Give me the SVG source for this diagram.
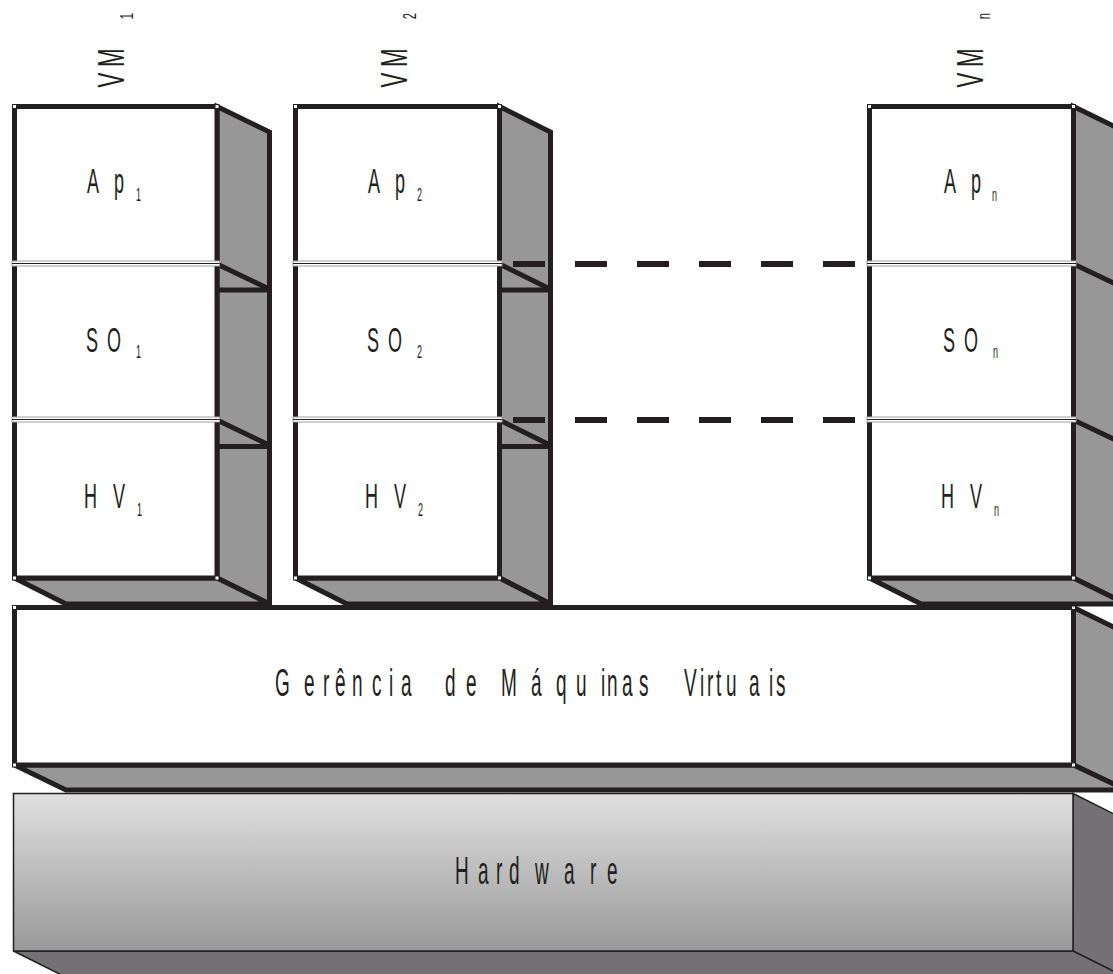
<svg xmlns="http://www.w3.org/2000/svg" width="1113" height="974" viewBox="0 0 1113 974">
<defs>
<linearGradient id="hwgrad" x1="0" y1="0" x2="0" y2="1">
<stop offset="0" stop-color="#e0e0e0"/>
<stop offset="1" stop-color="#999999"/>
</linearGradient>
<style>
.face{fill:#979797;stroke:#231f20;stroke-width:5;stroke-linejoin:miter}
.front{fill:#ffffff;stroke:#231f20;stroke-width:5}
.edge{stroke:#231f20;stroke-width:5;fill:none}
.div{fill:#ffffff;stroke:#a0a0a0;stroke-width:1}
.divl{stroke:#231f20;stroke-width:1.2}
.dot{fill:#ffffff}
.lbl{font-family:"Liberation Sans",Arial,sans-serif;font-size:36px;fill:#231f20}
.sub{font-size:18px}
.big{font-family:"Liberation Sans",Arial,sans-serif;font-size:38px;fill:#231f20}
.hwface{fill:#737173;stroke:#231f20;stroke-width:1.5}
.dash{stroke:#231f20;stroke-width:6;stroke-dasharray:32 30}
</style>
</defs>

<g id="hardware">
<polygon class="hwface" points="1073,793.5 1125,819.5 1125,977 1073,951"/>
<polygon class="hwface" points="13.5,951 1073,951 1125,977 65.5,977"/>
<rect x="13.5" y="793.5" width="1059.5" height="157.5" fill="url(#hwgrad)" stroke="#231f20" stroke-width="1.5"/>
<text class="big" transform="translate(0,884) scale(0.5,1)"><tspan x="910">H</tspan><tspan x="956">a</tspan><tspan x="992">r</tspan><tspan x="1018">d</tspan><tspan x="1070">w</tspan><tspan x="1128">a</tspan><tspan x="1180">r</tspan><tspan x="1214">e</tspan></text>
</g>

<g id="gerencia">
<polygon class="face" points="1073.5,607.5 1126,633 1126,790 1073.5,765"/>
<polygon class="face" points="14.5,765 1073.5,765 1126,790 66,790"/>
<rect class="front" x="14.5" y="607.5" width="1059" height="157.5"/>
<rect class="dot" x="13" y="606" width="3" height="3"/>
<rect class="dot" x="13" y="763.5" width="3" height="3"/>
<rect class="dot" x="1072" y="606" width="3" height="3"/>
<rect class="dot" x="1072" y="763.5" width="3" height="3"/>
<text class="big" transform="translate(0,696) scale(0.5,1)" x="550 608 646 670 704 744 778 802 840 890 932 970 1002 1062 1112 1152 1202 1214 1244 1278 1320 1368 1400 1414 1432 1452 1498 1538 1552">Gerência de Máquinas Virtuais</text>
</g>

<g id="vm1">
<polygon class="face" points="217,106.5 269.5,132 269.5,604 217,578"/>
<polygon class="face" points="14.5,578 217,578 269.5,604 66,604"/>
<rect class="front" x="14.5" y="106.5" width="202.5" height="471.5"/>
<line class="edge" x1="217" y1="264" x2="269" y2="289"/>
<line class="edge" x1="217" y1="290" x2="269.5" y2="290"/>
<line class="edge" x1="217" y1="420" x2="269" y2="445"/>
<line class="edge" x1="217" y1="446.5" x2="269.5" y2="446.5"/>
<rect class="div" x="12" y="261" width="207.5" height="5"/>
<line class="divl" x1="12" y1="263.5" x2="219.5" y2="263.5"/>
<rect class="div" x="12" y="417" width="207.5" height="5"/>
<line class="divl" x1="12" y1="419.5" x2="219.5" y2="419.5"/>
<rect class="dot" x="13" y="105" width="3" height="3"/>
<rect class="dot" x="215.5" y="105" width="3" height="3"/>
<rect class="dot" x="13" y="576.5" width="3" height="3"/>
<rect class="dot" x="215.5" y="576.5" width="3" height="3"/>
<text class="lbl" transform="translate(124,87.5) rotate(-90) scale(0.62,1)"><tspan x="0">V</tspan><tspan x="33">M</tspan><tspan class="sub" x="110" dy="9">1</tspan></text>
<text class="lbl" transform="translate(87,193) scale(0.5,1)"><tspan x="0">A</tspan><tspan x="54">p</tspan><tspan class="sub" x="98" dy="8">1</tspan></text>
<text class="lbl" transform="translate(86,352) scale(0.5,1)"><tspan x="0">S</tspan><tspan x="42">O</tspan><tspan class="sub" x="100" dy="6">1</tspan></text>
<text class="lbl" transform="translate(84,508) scale(0.5,1)"><tspan x="0">H</tspan><tspan x="58">V</tspan><tspan class="sub" x="106" dy="8">1</tspan></text>
</g>

<g id="vm2">
<polygon class="face" points="499.5,106.5 550.5,132 550.5,604 499.5,578"/>
<polygon class="face" points="295.5,578 499.5,578 550.5,604 347,604"/>
<rect class="front" x="295.5" y="106.5" width="204" height="471.5"/>
<line class="edge" x1="499.5" y1="264" x2="550" y2="289"/>
<line class="edge" x1="499.5" y1="290" x2="550.5" y2="290"/>
<line class="edge" x1="499.5" y1="420" x2="550" y2="445"/>
<line class="edge" x1="499.5" y1="446.5" x2="550.5" y2="446.5"/>
<rect class="div" x="293" y="261" width="209" height="5"/>
<line class="divl" x1="293" y1="263.5" x2="502" y2="263.5"/>
<rect class="div" x="293" y="417" width="209" height="5"/>
<line class="divl" x1="293" y1="419.5" x2="502" y2="419.5"/>
<rect class="dot" x="294" y="105" width="3" height="3"/>
<rect class="dot" x="498" y="105" width="3" height="3"/>
<rect class="dot" x="294" y="576.5" width="3" height="3"/>
<rect class="dot" x="498" y="576.5" width="3" height="3"/>
<text class="lbl" transform="translate(407,87.5) rotate(-90) scale(0.62,1)"><tspan x="0">V</tspan><tspan x="33">M</tspan><tspan class="sub" x="110" dy="9">2</tspan></text>
<text class="lbl" transform="translate(368,193) scale(0.5,1)"><tspan x="0">A</tspan><tspan x="54">p</tspan><tspan class="sub" x="98" dy="8">2</tspan></text>
<text class="lbl" transform="translate(367,352) scale(0.5,1)"><tspan x="0">S</tspan><tspan x="42">O</tspan><tspan class="sub" x="100" dy="6">2</tspan></text>
<text class="lbl" transform="translate(365,508) scale(0.5,1)"><tspan x="0">H</tspan><tspan x="58">V</tspan><tspan class="sub" x="106" dy="8">2</tspan></text>
</g>

<g id="vmn">
<polygon class="face" points="1073.5,106.5 1126,132 1126,604 1073.5,578"/>
<polygon class="face" points="869.5,578 1073.5,578 1126,604 921,604"/>
<rect class="front" x="869.5" y="106.5" width="204" height="471.5"/>
<line class="edge" x1="1073.5" y1="264" x2="1126" y2="289"/>
<line class="edge" x1="1073.5" y1="420" x2="1126" y2="445"/>
<rect class="div" x="867" y="261" width="209" height="5"/>
<line class="divl" x1="867" y1="263.5" x2="1076" y2="263.5"/>
<rect class="div" x="867" y="417" width="209" height="5"/>
<line class="divl" x1="867" y1="419.5" x2="1076" y2="419.5"/>
<rect class="dot" x="868" y="105" width="3" height="3"/>
<rect class="dot" x="1072" y="105" width="3" height="3"/>
<rect class="dot" x="868" y="576.5" width="3" height="3"/>
<rect class="dot" x="1072" y="576.5" width="3" height="3"/>
<text class="lbl" transform="translate(983,87.5) rotate(-90) scale(0.62,1)"><tspan x="0">V</tspan><tspan x="33">M</tspan><tspan class="sub" x="110" dy="7">n</tspan></text>
<text class="lbl" transform="translate(944,193) scale(0.5,1)"><tspan x="0">A</tspan><tspan x="54">p</tspan><tspan class="sub" x="96" dy="8">n</tspan></text>
<text class="lbl" transform="translate(943,352) scale(0.5,1)"><tspan x="0">S</tspan><tspan x="42">O</tspan><tspan class="sub" x="100" dy="6">n</tspan></text>
<text class="lbl" transform="translate(941,508) scale(0.5,1)"><tspan x="0">H</tspan><tspan x="58">V</tspan><tspan class="sub" x="106" dy="8">n</tspan></text>
</g>

<g id="connectors">
<line class="dash" x1="513" y1="264" x2="855" y2="264"/>
<line class="dash" x1="513" y1="420" x2="855" y2="420"/>
</g>
</svg>
